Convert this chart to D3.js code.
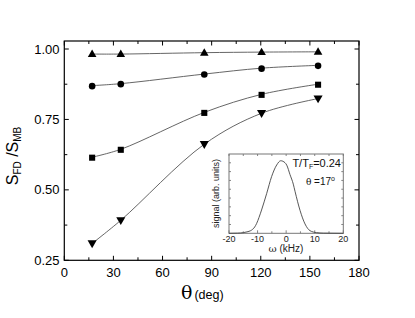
<!DOCTYPE html>
<html><head><meta charset="utf-8">
<script src="https://cdn.jsdelivr.net/npm/d3@7"></script>
<style>html,body{margin:0;padding:0;background:#fff}svg{display:block;font-family:"Liberation Sans",Arial,sans-serif}</style>
</head><body><svg id="c" width="415" height="318"></svg>
<script>
// ---- data ----
const thetaDeg = [17, 34.5, 85.5, 120.5, 155];
const seriesUp = [0.982, 0.982, 0.987, 0.989, 0.990];
const seriesCircle = [0.870, 0.877, 0.911, 0.932, 0.942];
const seriesSquare = [0.616, 0.644, 0.775, 0.839, 0.875];
const seriesDown = [0.310, 0.392, 0.662, 0.772, 0.824];
const xTicks = [0, 30, 60, 90, 120, 150, 180];
const yTicks = [0.25, 0.50, 0.75, 1.00];
const insetOmega = [-20, -17, -15, -14.4, -13, -12.1, -11, -10.3, -9.5, -8.6, -6.8, -5.1, -3.3, -1.9, -0.4, 0.2, 1.35, 2.5, 3.1, 4.85, 6.6, 8.35, 10.7, 13, 20];
const insetSignal = [0, 0.002, 0.008, 0.013, 0.025, 0.04, 0.08, 0.126, 0.2, 0.294, 0.504, 0.714, 0.862, 0.915, 0.89, 0.86, 0.74, 0.62, 0.53, 0.29, 0.118, 0.033, 0.008, 0.002, 0];
const insetXTicks = [-20, -10, 0, 10, 20];

const svg = d3.select("#c");
const L = 64.3, R = 359, T = 41, B = 260.3;
const x = d3.scaleLinear().domain([0, 180]).range([L, R]);
const y = d3.scaleLinear().domain([0.25, 1.0]).range([B, 49]);

svg.append("rect").attr("width",415).attr("height",318).attr("fill","#fff");

// ticks
const g = svg.append("g").attr("stroke","#000").attr("stroke-width",1);
const xMinor = d3.range(0, 181, 15);
xMinor.forEach(v => {
  const len = (v % 30 === 0) ? 4.5 : 3;
  g.append("line").attr("x1",x(v)).attr("x2",x(v)).attr("y1",B).attr("y2",B-len);
  g.append("line").attr("x1",x(v)).attr("x2",x(v)).attr("y1",T).attr("y2",T+len);
});
const yMinor = d3.range(0.25, 1.01, 0.125);
yMinor.forEach(v => {
  const major = Math.abs((v/0.25) - Math.round(v/0.25)) < 1e-6;
  const len = major ? 4.5 : 3;
  g.append("line").attr("y1",y(v)).attr("y2",y(v)).attr("x1",L).attr("x2",L+len);
  g.append("line").attr("y1",y(v)).attr("y2",y(v)).attr("x1",R).attr("x2",R-len);
});
svg.append("rect").attr("x",L).attr("y",T).attr("width",R-L).attr("height",B-T)
  .attr("fill","none").attr("stroke","#000").attr("stroke-width",1.2);

// tick labels
svg.append("g").selectAll("text").data(xTicks).join("text")
  .attr("x", d => x(d)).attr("y", 276.5).attr("text-anchor","middle")
  .attr("font-size",13).text(d => d);
svg.append("g").selectAll("text").data(yTicks).join("text")
  .attr("x", 59.5).attr("y", d => y(d) + 4.6).attr("text-anchor","end")
  .attr("font-size",13).text(d => d3.format(".2f")(d));

// axis titles
const xt = svg.append("text").attr("x", 181).attr("y", 299);
xt.append("tspan").attr("font-size",19).attr("font-family","DejaVu Serif, serif").text("θ");
xt.append("tspan").attr("font-size",12.5).attr("dx",2).text("(deg)");
const yt = svg.append("text").attr("transform","translate(17.5,156) rotate(-90)").attr("text-anchor","middle").attr("font-size",16);
yt.append("tspan").text("S");
yt.append("tspan").attr("font-size",10).attr("dy",3).text("FD");
yt.append("tspan").attr("dy",-3).text(" /S");
yt.append("tspan").attr("font-size",10).attr("dy",3).text("MB");

// lines + markers
const series = [
  {v: seriesUp, sym: d3.symbolTriangle, size: 32, rot: 0},
  {v: seriesCircle, sym: d3.symbolCircle, size: 34, rot: 0},
  {v: seriesSquare, sym: d3.symbolSquare, size: 37, rot: 0},
  {v: seriesDown, sym: d3.symbolTriangle, size: 36, rot: 180}
];
const line = d3.line().x((d,i) => x(thetaDeg[i])).y(d => y(d)).curve(d3.curveCatmullRom.alpha(0.5));
series.forEach(s => {
  svg.append("path").attr("d", line(s.v)).attr("fill","none").attr("stroke","#555").attr("stroke-width",0.9);
});
series.forEach(s => {
  const p = d3.symbol().type(s.sym).size(s.size)();
  svg.append("g").selectAll("path").data(s.v).join("path")
    .attr("d", p).attr("fill","#000")
    .attr("transform",(d,i) => `translate(${x(thetaDeg[i])},${y(d) + (s.rot ? -0.5 : 0.5)}) rotate(${s.rot})`);
});

// inset
const iL = 229, iR = 343.3, iT = 154, iB = 233.3;
const ix = d3.scaleLinear().domain([-20, 20]).range([iL, iR]);
const iy = d3.scaleLinear().domain([0, 1]).range([iB, iB - 79.3]);
const ig = svg.append("g");
const tg = ig.append("g").attr("stroke","#666").attr("stroke-width",0.8);
d3.range(-20, 21, 5).forEach(v => {
  const len = (v % 10 === 0) ? 3 : 2;
  tg.append("line").attr("x1",ix(v)).attr("x2",ix(v)).attr("y1",iB).attr("y2",iB-len);
  tg.append("line").attr("x1",ix(v)).attr("x2",ix(v)).attr("y1",iT).attr("y2",iT+2);
});
d3.range(1, 9).forEach(k => {
  const yy = iT + k * (iB - iT) / 9;
  tg.append("line").attr("x1",iL).attr("x2",iL+2).attr("y1",yy).attr("y2",yy);
  tg.append("line").attr("x1",iR).attr("x2",iR-2).attr("y1",yy).attr("y2",yy);
});
ig.append("rect").attr("x",iL).attr("y",iT).attr("width",iR-iL).attr("height",iB-iT)
  .attr("fill","none").attr("stroke","#777").attr("stroke-width",1);
const iline = d3.line().x((d,i) => ix(insetOmega[i])).y(d => iy(d)).curve(d3.curveMonotoneX);
ig.append("path").attr("d", iline(insetSignal)).attr("fill","none").attr("stroke","#444").attr("stroke-width",0.9);
ig.append("g").selectAll("text").data(insetXTicks).join("text")
  .attr("x", d => ix(d)).attr("y", 242).attr("text-anchor","middle").attr("font-size",9).attr("fill","#222")
  .text(d => d);
const wt = ig.append("text").attr("x", 286).attr("y", 251.5).attr("text-anchor","middle").attr("font-size",10).attr("fill","#222");
wt.append("tspan").attr("font-family","DejaVu Serif, serif").attr("font-size",10).text("ω");
wt.append("tspan").text(" (kHz)");
ig.append("text").attr("transform","translate(218.5,193.5) rotate(-90)").attr("text-anchor","middle")
  .attr("font-size",9).attr("fill","#222").text("signal (arb. units)");
const t1 = ig.append("text").attr("x", 341).attr("y", 166.5).attr("text-anchor","end").attr("font-size",11).attr("fill","#111");
t1.append("tspan").text("T/T");
t1.append("tspan").attr("font-size",7).attr("dy",2.5).text("F");
t1.append("tspan").attr("dy",-2.5).text("=0.24");
const t2 = ig.append("text").attr("x", 335).attr("y", 185).attr("text-anchor","end").attr("font-size",10).attr("fill","#111");
t2.append("tspan").attr("font-family","DejaVu Serif, serif").attr("font-size",9).text("θ");
t2.append("tspan").text(" =17");
t2.append("tspan").attr("font-size",7).attr("dy",-4).text("o");
</script></body></html>
